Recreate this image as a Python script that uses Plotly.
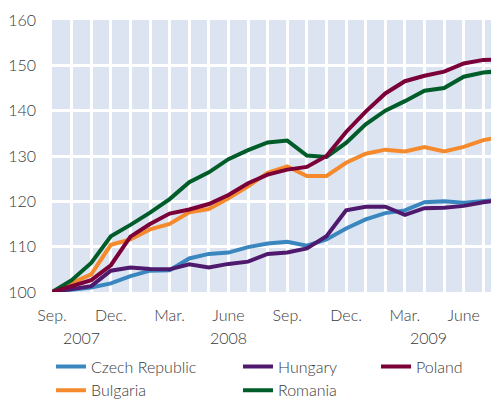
import plotly.graph_objects as go

month_labels = ["Sep.", "Oct.", "Nov.", "Dec.", "Jan.", "Feb.", "Mar.", "Apr.", "May", "June", "July", "Aug.",
                "Sep.", "Oct.", "Nov.", "Dec.", "Jan.", "Feb.", "Mar.", "Apr.", "May", "June", "July", "Aug."]
month_idx = list(range(len(month_labels)))

tick_positions = [0, 3, 6, 9, 12, 15, 18, 21]
tick_labels = ["Sep.", "Dec.", "Mar.", "June", "Sep.", "Dec.", "Mar.", "June"]
year_labels = ["2007", "2008", "2009"]
year_positions = [1.5, 9, 19.2]

czech = [100, 100.4, 101, 101.9, 103.5, 104.7, 104.8, 107.4, 108.4, 108.7, 109.9, 110.7,
         111.1, 110.2, 111.6, 114, 116, 117.4, 118, 119.8, 120, 119.7, 120, 120.4]
hungary = [100, 100.6, 101.3, 104.7, 105.4, 105.1, 105, 106.1, 105.4, 106.2, 106.7, 108.4,
           108.7, 109.6, 112.3, 118, 118.8, 118.8, 117, 118.5, 118.6, 119, 119.8, 120.3]
poland = [100, 101.3, 102.6, 105.9, 112.2, 115, 117.3, 118.2, 119.4, 121.4, 124, 125.9,
          127, 127.6, 130, 135.3, 139.8, 143.8, 146.5, 147.7, 148.6, 150.4, 151.2, 151.3]
bulgaria = [100, 101.9, 103.9, 110.4, 111.6, 113.8, 115, 117.6, 118.3, 120.7, 123.3, 126.3,
            127.7, 125.6, 125.6, 128.5, 130.5, 131.4, 131, 132, 131, 132, 133.5, 134.3]
romania = [100, 102.6, 106.4, 112.3, 114.8, 117.5, 120.5, 124.2, 126.4, 129.3, 131.3, 133,
           133.4, 130.1, 129.8, 132.9, 137, 140, 142.1, 144.4, 145, 147.5, 148.4, 148.8]

series = [
    ("Czech Republic", czech, "#3a87c0", "legend"),
    ("Bulgaria", bulgaria, "#f58a2c", "legend"),
    ("Hungary", hungary, "#4f1a6e", "legend2"),
    ("Romania", romania, "#005c29", "legend2"),
    ("Poland", poland, "#7b0038", "legend3"),
]

FONT = "Lato"
TXT = "#3a3a3a"

fig = go.Figure()
for name, vals, col, lg in series:
    fig.add_trace(go.Scatter(x=month_idx, y=vals, name=name, mode="lines",
                             line=dict(color=col, width=4), legend=lg))

for xv in [3, 15]:
    fig.add_shape(type="line", xref="x", yref="paper", x0=xv, x1=xv, y0=0, y1=1,
                  line=dict(color="#2e75b6", width=2), layer="between")

for lab, pos in zip(year_labels, year_positions):
    fig.add_annotation(x=pos, xref="x", y=-0.169, yref="paper", text=lab, showarrow=False,
                       font=dict(family=FONT, size=16, color=TXT, weight=300), yanchor="middle")

legend_common = dict(orientation="v", yanchor="top", xanchor="left", y=0.131,
                     xref="container", yref="container",
                     font=dict(family=FONT, size=16, color=TXT, weight=300),
                     bgcolor="rgba(0,0,0,0)", tracegroupgap=0, itemwidth=30)

fig.update_layout(
    width=491, height=393,
    margin=dict(l=44, r=0, t=12, b=109, autoexpand=False),
    paper_bgcolor="white", plot_bgcolor="#dbe4f0",
    font=dict(family=FONT, size=16, color=TXT, weight=300),
    showlegend=True,
    legend=dict(x=0.0875, **legend_common),
    legend2=dict(x=0.4684, **legend_common),
    legend3=dict(x=0.7495, **legend_common),
    xaxis=dict(range=[0, 22.8], tickvals=tick_positions, ticktext=tick_labels,
               showgrid=True, gridcolor="white", gridwidth=2.5, zeroline=False,
               showline=False, ticks="", ticklabelstandoff=12, automargin=False,
               tickfont=dict(family=FONT, size=16, color=TXT, weight=300),
               minor=dict(dtick=1, tick0=0, showgrid=True, gridcolor="white", gridwidth=2.5)),
    yaxis=dict(range=[100, 160], tickvals=[100, 110, 120, 130, 140, 150, 160],
               showgrid=True, gridcolor="white", gridwidth=2.5, zeroline=False,
               showline=False, ticks="", ticklabelstandoff=15, automargin=False,
               tickfont=dict(family=FONT, size=16, color=TXT, weight=300)),
)

fig.write_html("out.html")
